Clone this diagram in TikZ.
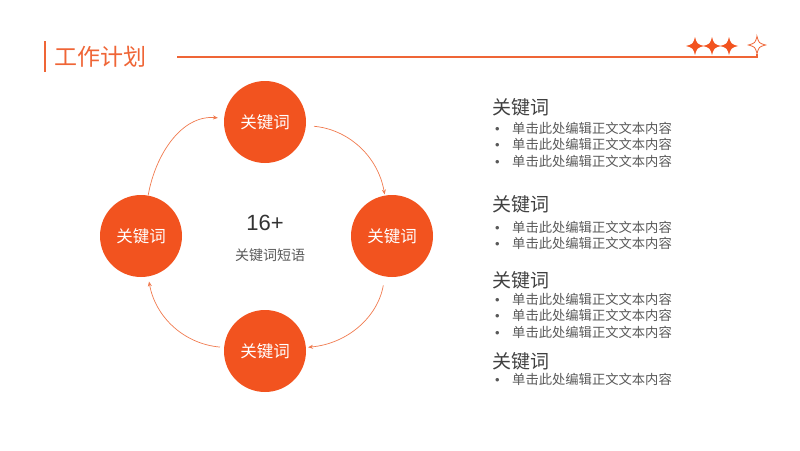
\documentclass[tikz,border=0pt]{standalone}
\usepackage{fontspec}
\setmainfont{Noto Sans CJK SC}
\newfontfamily\latinfont{Liberation Sans}
\usetikzlibrary{positioning, arrows.meta}
\definecolor{accent}{HTML}{F2531F}
\definecolor{titlered}{HTML}{EF6536}
\definecolor{flowline}{HTML}{F07A4E}
\definecolor{headgray}{HTML}{404040}
\definecolor{textgray}{HTML}{595959}
\newcommand{\dotitem}{\makebox[17pt][l]{\latinfont\fontsize{13}{13}\selectfont•}}
\tikzset{sparkle/.pic={
  \path[pic actions] (0,-9) .. controls (2,-2) .. (9,0) .. controls (2,2) .. (0,9)
    .. controls (-2,2) .. (-9,0) .. controls (-2,-2) .. cycle;}}

\begin{document}
\begin{tikzpicture}[x=1pt, y=-1pt, >={Stealth[length=5pt, width=4pt]},
  keyword/.style={circle, fill=accent, text=white, minimum size=82pt, inner sep=0pt,
    font=\fontsize{16.5}{18}\selectfont},
  flow/.style={->, flowline, line width=0.7pt},
  heading/.style={anchor=west, text=headgray, inner sep=0pt, font=\fontsize{19}{22}\selectfont},
  item/.style={anchor=west, text=textgray, inner xsep=0pt, inner ysep=1.5pt,
    text height=10pt, text depth=3pt, font=\fontsize{13.3}{15}\selectfont}]
  \useasboundingbox (0,0) rectangle (800,450);

  % title bar
  \draw[titlered, line width=1.6pt] (45,41) -- (45,72);
  \node[anchor=west, text=titlered, inner sep=0pt, font=\fontsize{23}{25}\selectfont] (title) at (54,57) {工作计划};
  \draw[titlered, line width=1.3pt] (177,57) -- (757,57) -- (757,54);
  \pic[fill=accent] at (695,46) {sparkle};
  \pic[fill=accent] at (712,46) {sparkle};
  \pic[fill=accent] at (729,46) {sparkle};
  \pic[draw=titlered, fill=white, line width=0.8pt, scale=0.95] at (757,45) {sparkle};

  % cycle
  \node[keyword] (top) at (265,122) {关键词};
  \node[keyword] (right) at (392,236) {关键词};
  \node[keyword] (bottom) at (265,351) {关键词};
  \node[keyword] (left) at (141,236) {关键词};

  \draw[flow, shorten <=8pt, shorten >=1pt] (top) to[out=-5, in=100] (right);
  \draw[flow, shorten <=9pt, shorten >=2pt] (right) to[out=-100, in=5] (bottom);
  \draw[flow, shorten <=4pt, shorten >=5pt] (bottom) to[out=175, in=-80] (left);
  \draw[flow, shorten <=0pt, shorten >=6pt] (left) to[out=80, in=175] (top);

  \node[text=black!80, font=\latinfont\fontsize{22}{24}\selectfont] (count) at (265,223) {16+};
  \node[text=textgray, font=\fontsize{14}{16}\selectfont] (phrase) at (270,255) {关键词短语};

  % text blocks
  \node[heading] (h1) at (492,107) {关键词};
  \node[item] (b1a) at (495,130) {\dotitem 单击此处编辑正文文本内容};
  \node[item, below=0pt of b1a] (b1b) {\dotitem 单击此处编辑正文文本内容};
  \node[item, below=0pt of b1b] (b1c) {\dotitem 单击此处编辑正文文本内容};

  \node[heading] (h2) at (492,204) {关键词};
  \node[item] (b2a) at (495,229) {\dotitem 单击此处编辑正文文本内容};
  \node[item, below=0pt of b2a] (b2b) {\dotitem 单击此处编辑正文文本内容};

  \node[heading] (h3) at (492,280) {关键词};
  \node[item] (b3a) at (495,301) {\dotitem 单击此处编辑正文文本内容};
  \node[item, below=0pt of b3a] (b3b) {\dotitem 单击此处编辑正文文本内容};
  \node[item, below=0pt of b3b] (b3c) {\dotitem 单击此处编辑正文文本内容};

  \node[heading] (h4) at (492,361) {关键词};
  \node[item] (b4a) at (495,381) {\dotitem 单击此处编辑正文文本内容};
\end{tikzpicture}
\end{document}
